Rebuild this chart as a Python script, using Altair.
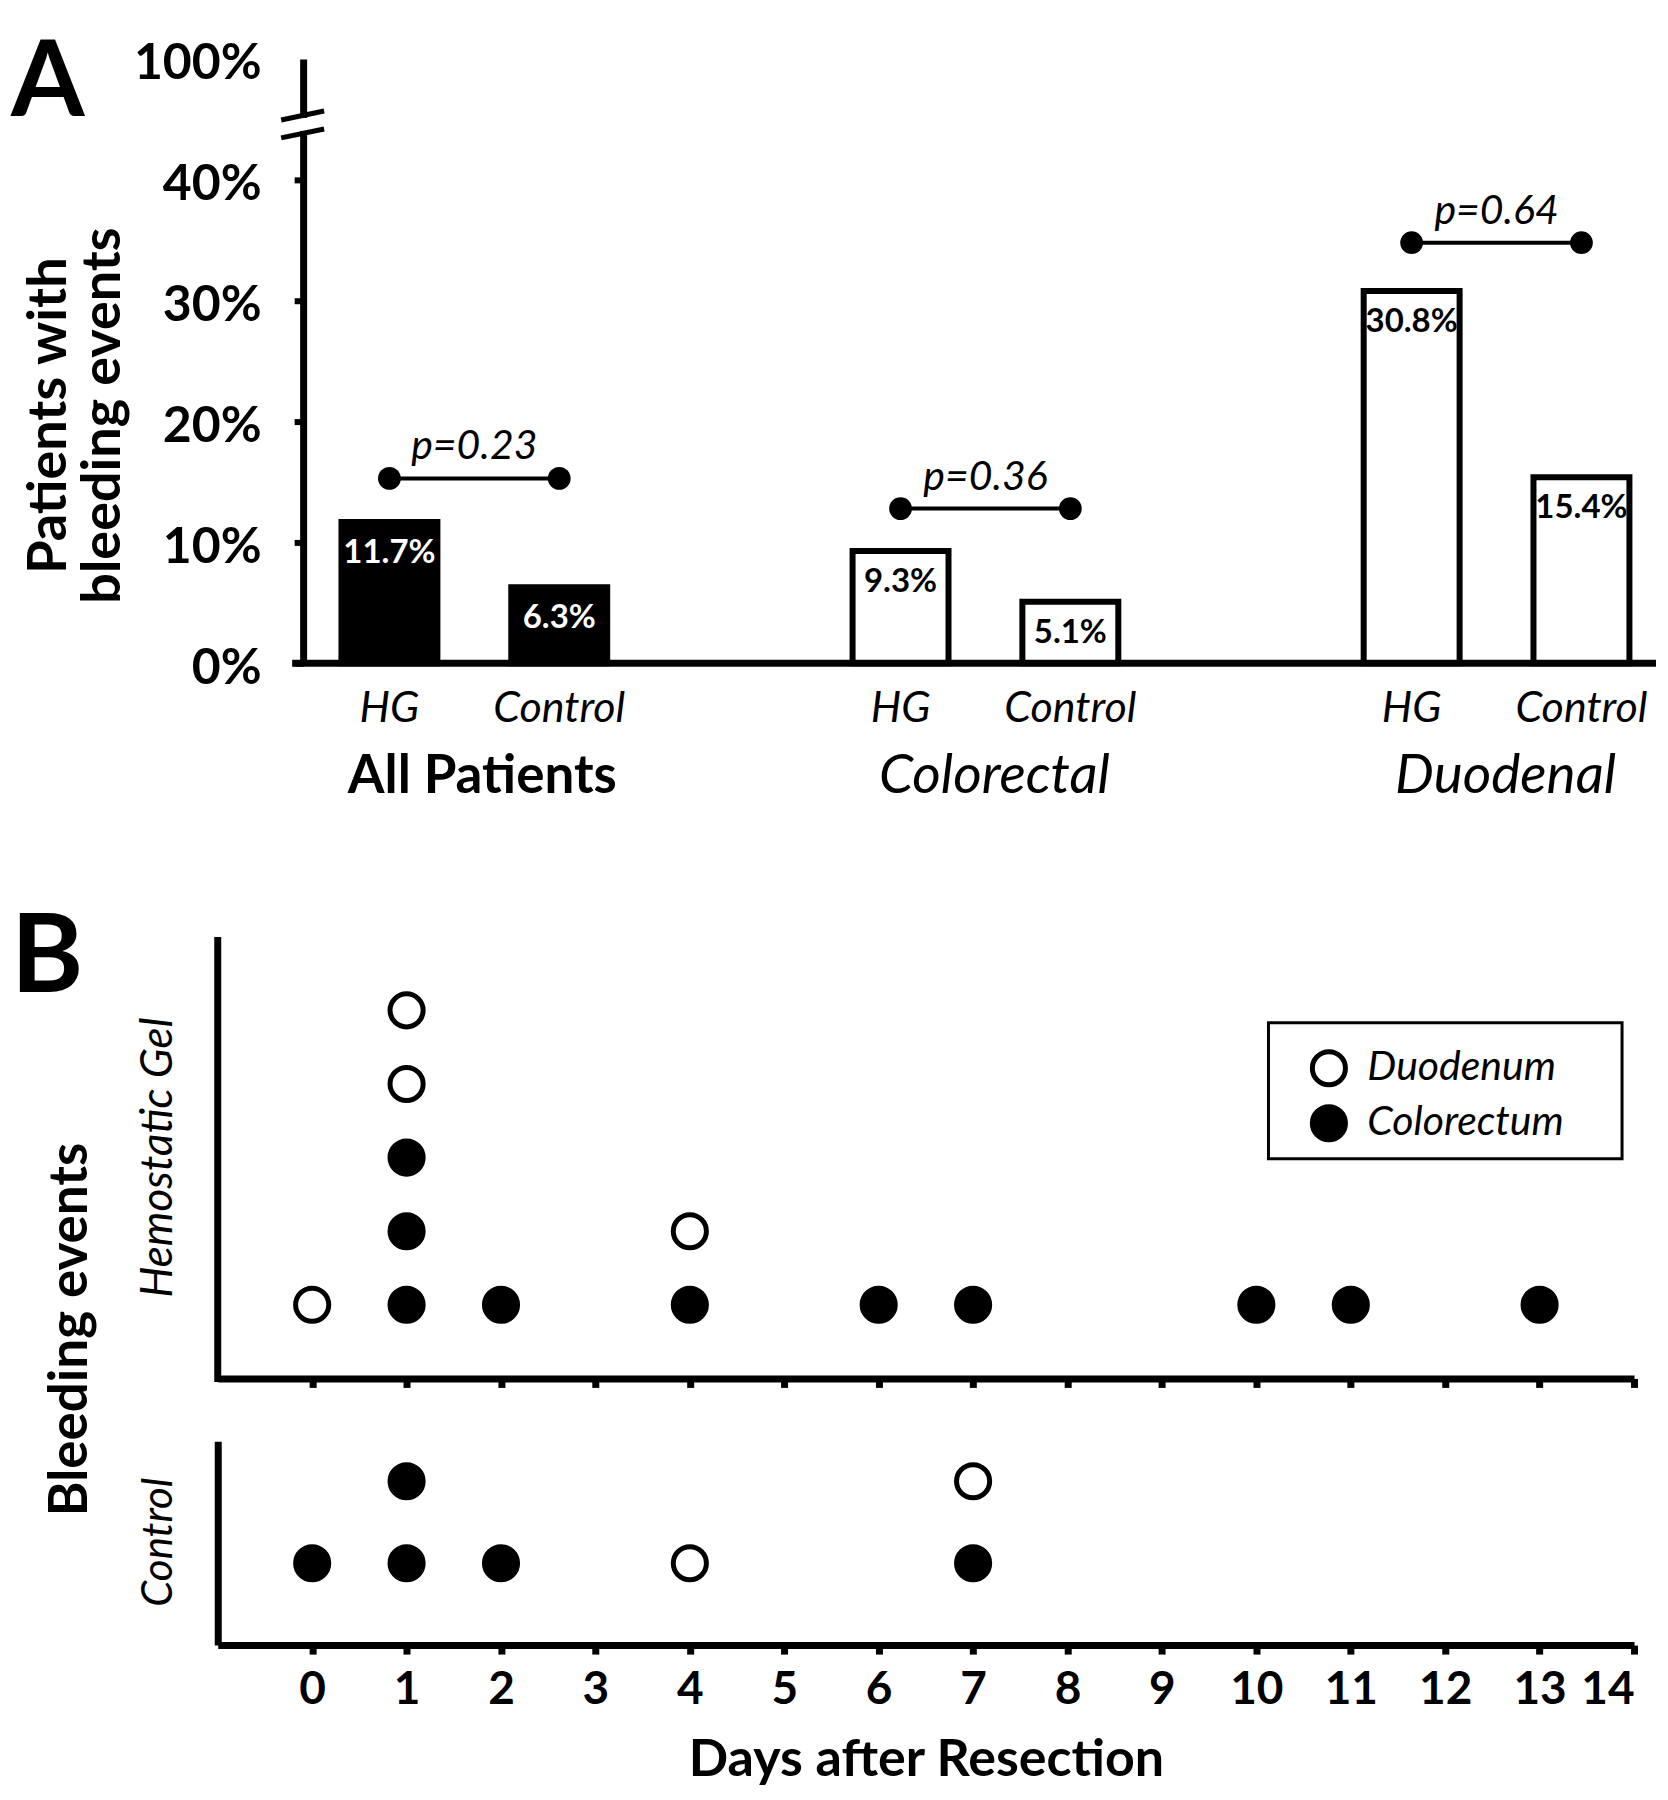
import altair as alt
import pandas as pd

FONT = "Lato"

# ---------------- Panel A data ----------------
groups = ["All Patients", "Colorectal", "Duodenal"]
arms = ["HG", "Control"]
hg_pct = [11.7, 9.3, 30.8]
control_pct = [6.3, 5.1, 15.4]
p_text = ["p=0.23", "p=0.36", "p=0.64"]
p_bracket_pct = [15.3, 12.8, 34.8]
y_tick_values = [0, 10, 20, 30, 40, 50]
y_tick_labels = ["0%", "10%", "20%", "30%", "40%", "100%"]
y_title_lines = ["Patients with", "bleeding events"]

# ---------------- Panel B data ----------------
day_ticks = list(range(0, 15))
site_order = ["Duodenum", "Colorectum"]
hg_days = [0, 1, 1, 1, 1, 1, 2, 4, 4, 6, 7, 10, 11, 13]
hg_sites = ["Duodenum", "Colorectum", "Colorectum", "Colorectum", "Duodenum", "Duodenum",
            "Colorectum", "Colorectum", "Duodenum", "Colorectum", "Colorectum",
            "Colorectum", "Colorectum", "Colorectum"]
control_days = [0, 1, 1, 2, 4, 7, 7]
control_sites = ["Colorectum", "Colorectum", "Colorectum", "Colorectum", "Duodenum",
                 "Colorectum", "Duodenum"]

# ---------------- tables ----------------
bar_rows = []
for g, h, c in zip(groups, hg_pct, control_pct):
    bar_rows.append({"group": g, "arm": arms[0], "pct": h / 100})
    bar_rows.append({"group": g, "arm": arms[1], "pct": c / 100})
bars_df = pd.DataFrame(bar_rows)

p_rows = []
for g, b in zip(groups, p_bracket_pct):
    for a in arms:
        p_rows.append({"group": g, "arm": a, "pos": b / 100})
p_df = pd.DataFrame(p_rows)
p_lab_df = pd.DataFrame({"group": groups, "pos": [b / 100 for b in p_bracket_pct], "label": p_text})
grp_df = pd.DataFrame({"group": groups})

hg_df = pd.DataFrame({"day": hg_days, "site": hg_sites})
ctrl_df = pd.DataFrame({"day": control_days, "site": control_sites})
one = pd.DataFrame({"k": [0]})

# ---------------- sizes ----------------
A_W, A_H = 1440, 605
B_W = 1418
BU_H = 653
BL_H = 204
AX_OFF = 85.5

# ---------------- Panel A ----------------
x_enc = alt.X("group:N", sort=groups, axis=None,
              scale=alt.Scale(paddingInner=0.4, paddingOuter=0.107, align=0.944))
xo_enc = alt.XOffset("arm:N", sort=arms,
                     scale=alt.Scale(paddingInner=0.435, paddingOuter=0.1205))
y_scale = alt.Scale(domain=[0, y_tick_values[-1] / 100], nice=False)

label_map = "{" + ", ".join(f"'{v}': '{l}'" for v, l in zip(y_tick_values, y_tick_labels)) + "}"
y_axis_A = alt.Axis(
    values=[v / 100 for v in y_tick_values],
    labelExpr=f"{label_map}[format(datum.value*100, 'd')]",
    offset=-AX_OFF, domainColor="black", domainWidth=7,
    tickColor="black", tickWidth=6, tickSize=9,
    tickOpacity={"condition": {"test": "datum.value > 0.45", "value": 0}, "value": 1},
    labelFont=FONT, labelFontSize=50, labelFontWeight="bold", labelColor="black",
    labelPadding=33, labelOffset=5, grid=False, title=None,
)

is_all = alt.datum.group == groups[0]

bars = alt.Chart(bars_df).mark_bar(stroke="black", strokeWidth=6, strokeJoin="miter").encode(
    x=x_enc, xOffset=xo_enc,
    y=alt.Y("pct:Q", scale=y_scale, axis=y_axis_A),
    fill=alt.condition(is_all, alt.value("black"), alt.value("white")),
)
bar_vals = alt.Chart(bars_df).mark_text(font=FONT, fontSize=33, fontWeight="bold", dy=31,
                                        baseline="middle").encode(
    x=x_enc, xOffset=xo_enc, y=alt.Y("pct:Q"),
    text=alt.Text("pct:Q", format=".1%"),
    color=alt.condition(is_all, alt.value("white"), alt.value("black")),
)
p_line = alt.Chart(p_df).mark_line(color="black", strokeWidth=4).encode(
    x=x_enc, xOffset=xo_enc, y=alt.Y("pos:Q"), detail="group:N",
)
p_dots = alt.Chart(p_df).mark_circle(color="black", size=520, opacity=1).encode(
    x=x_enc, xOffset=xo_enc, y=alt.Y("pos:Q"),
)
p_labels = alt.Chart(p_lab_df).mark_text(font=FONT, fontSize=41, fontStyle="italic",
                                         dy=-31, baseline="middle", color="black").encode(
    x=x_enc, y=alt.Y("pos:Q"), text="label:N",
)
arm_labels = alt.Chart(bars_df).mark_text(font=FONT, fontSize=43, fontStyle="italic",
                                          baseline="alphabetic", color="black").encode(
    x=x_enc, xOffset=xo_enc, y=alt.value(A_H + 59), text="arm:N",
)
grp_bold = alt.Chart(grp_df).transform_filter(is_all).mark_text(
    font=FONT, fontSize=53, fontWeight="bold", baseline="alphabetic", color="black", dx=8).encode(
    x=x_enc, y=alt.value(A_H + 130), text="group:N",
)
grp_ital = alt.Chart(grp_df).transform_filter(~is_all).mark_text(
    font=FONT, fontSize=55, fontStyle="italic", baseline="alphabetic", color="black", dx=9).encode(
    x=x_enc, y=alt.value(A_H + 130), text="group:N",
)
x_line = alt.Chart(one).mark_rule(color="black", strokeWidth=7).encode(
    x=alt.value(AX_OFF - 11), x2=alt.value(A_W), y=alt.value(A_H),
)
brk_white = alt.Chart(one).mark_rule(color="white", strokeWidth=12).encode(
    x=alt.value(AX_OFF), y=alt.value(59), y2=alt.value(72),
)
brk1 = alt.Chart(one).mark_rule(color="black", strokeWidth=5).encode(
    x=alt.value(AX_OFF - 22), x2=alt.value(AX_OFF + 21), y=alt.value(61), y2=alt.value(52),
)
brk2 = alt.Chart(one).mark_rule(color="black", strokeWidth=5).encode(
    x=alt.value(AX_OFF - 22), x2=alt.value(AX_OFF + 21), y=alt.value(79), y2=alt.value(70),
)
letter_A = alt.Chart(pd.DataFrame({"t": ["A"]})).mark_text(
    font=FONT, fontSize=106, fontWeight="bold", align="left", baseline="alphabetic",
    color="black").encode(x=alt.value(-207), y=alt.value(57), text="t:N")
ytitle1 = alt.Chart(pd.DataFrame({"t": [y_title_lines[0]]})).mark_text(
    font=FONT, fontSize=54, fontWeight="bold", angle=270, align="center", baseline="middle",
    color="black").encode(x=alt.value(-168), y=alt.value(357), text="t:N")
ytitle2 = alt.Chart(pd.DataFrame({"t": [y_title_lines[1]]})).mark_text(
    font=FONT, fontSize=54, fontWeight="bold", angle=270, align="center", baseline="middle",
    color="black").encode(x=alt.value(-114), y=alt.value(357), text="t:N")

panel_A = alt.layer(
    bars, bar_vals, p_line, p_dots, p_labels, arm_labels, grp_bold, grp_ital,
    x_line, brk_white, brk1, brk2, letter_A, ytitle1, ytitle2,
).properties(width=A_W, height=A_H)

# ---------------- Panel B ----------------
x_scale_B = alt.Scale(domain=[-1, 14], nice=False, zero=False)
fill_scale = alt.Scale(domain=site_order, range=["white", "black"])


def dots(df, ymax, x_axis, y_axis, legend):
    return alt.Chart(df).transform_window(
        level="row_number()", groupby=["day"], sort=[alt.SortField("site", order="ascending")]
    ).mark_point(shape="circle", filled=True, size=1100, stroke="black", strokeWidth=5,
                 opacity=1).encode(
        x=alt.X("day:Q", scale=x_scale_B, axis=x_axis),
        y=alt.Y("level:Q", scale=alt.Scale(domain=[0, ymax], nice=False, zero=True), axis=y_axis),
        fill=alt.Fill("site:N", scale=fill_scale, legend=legend),
    )


legend_B = alt.Legend(
    orient="none", legendX=1092, legendY=322, title=None, direction="vertical",
    labelFont=FONT, labelFontSize=41, labelFontStyle="italic", labelColor="black",
    labelLimit=500,
    symbolType="circle", symbolSize=1100, symbolStrokeWidth=5, symbolStrokeColor="black",
    labelOffset=18, rowPadding=0, padding=0,
)
xaxis_up = alt.Axis(values=day_ticks, labels=False, title=None, domainColor="black",
                    domainWidth=7, tickColor="black", tickWidth=7, tickSize=9, grid=False)
bu_points = dots(hg_df, BU_H / 73.7, xaxis_up, None, legend_B)
bu_yline = alt.Chart(one).mark_rule(color="black", strokeWidth=7).encode(
    x=alt.value(0), y=alt.value(BU_H - 442), y2=alt.value(BU_H + 3.5))
leg_box = alt.Chart(one).mark_rect(fill="white", fillOpacity=0, stroke="black", strokeWidth=3).encode(
    x=alt.value(1052), x2=alt.value(1406), y=alt.value(297), y2=alt.value(433))
letter_B = alt.Chart(pd.DataFrame({"t": ["B"]})).mark_text(
    font=FONT, fontSize=110, fontWeight="bold", align="left", baseline="alphabetic",
    color="black").encode(x=alt.value(-207), y=alt.value(266), text="t:N")
hg_title = alt.Chart(pd.DataFrame({"t": ["Hemostatic Gel"]})).mark_text(
    font=FONT, fontSize=44, fontStyle="italic", angle=270, align="center", baseline="middle",
    color="black").encode(x=alt.value(-59), y=alt.value(432), text="t:N")
b_title = alt.Chart(pd.DataFrame({"t": ["Bleeding events"]})).mark_text(
    font=FONT, fontSize=53, fontWeight="bold", angle=270, align="center", baseline="middle",
    color="black").encode(x=alt.value(-147), y=alt.value(604), text="t:N")

panel_Bu = alt.layer(leg_box, bu_points, bu_yline, letter_B, hg_title, b_title).properties(
    width=B_W, height=BU_H)

xaxis_low = alt.Axis(values=day_ticks, format="d", domainColor="black", domainWidth=7,
                     tickColor="black", tickWidth=7, tickSize=9, grid=False,
                     labelFont=FONT, labelFontSize=46, labelFontWeight="bold", labelColor="black",
                     labelPadding=13,
                     title="Days after Resection", titleFont=FONT, titleFontSize=52,
                     titleFontWeight="bold", titleColor="black",
                     titleBaseline="alphabetic", titleY=131)
yaxis_low = alt.Axis(labels=False, ticks=False, title=None, grid=False,
                     domainColor="black", domainWidth=7)
bl_points = dots(ctrl_df, BL_H / 82, xaxis_low, yaxis_low, None)
ctrl_title = alt.Chart(pd.DataFrame({"t": ["Control"]})).mark_text(
    font=FONT, fontSize=42, fontStyle="italic", angle=270, align="center", baseline="middle",
    color="black").encode(x=alt.value(-59), y=alt.value(101), text="t:N")
panel_Bl = alt.layer(bl_points, ctrl_title).properties(width=B_W, height=BL_H)

chart = alt.vconcat(panel_A, panel_Bu, panel_Bl, spacing=63, bounds="flush").resolve_scale(
    fill="independent", x="independent", y="independent"
).resolve_legend(fill="independent").properties(
    padding={"left": 3, "top": 22, "right": 0, "bottom": 1}, background="white"
).configure_view(stroke=None)

chart.save("out.html", embed_options={"renderer": "svg", "actions": False})
